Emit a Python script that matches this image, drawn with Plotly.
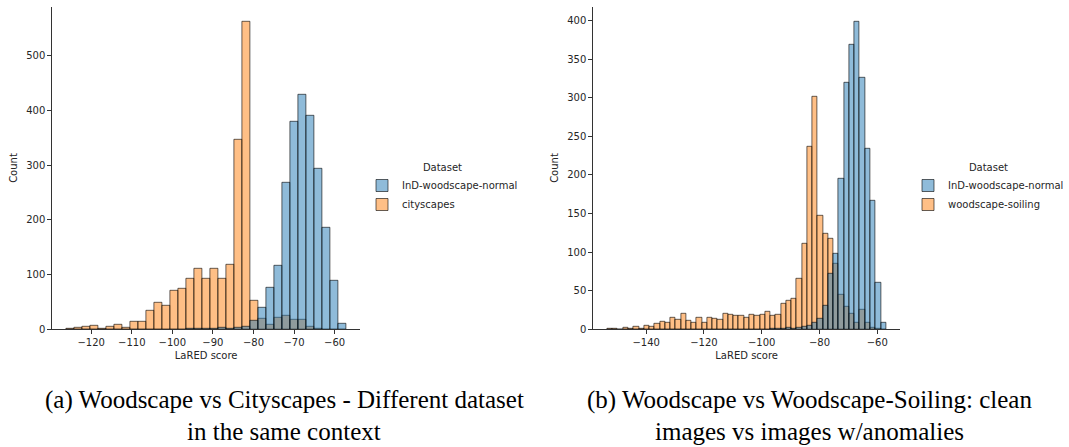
import numpy as np
import plotly.graph_objects as go

# ---------------- data ----------------
# (a) Woodscape vs Cityscapes : 35 common bins
left_bin_start = -126.14
left_bin_width = 1.97
left_woodscape = [0, 0, 0, 0, 0, 0, 0, 0, 0, 0, 0, 0, 0, 0, 0,
                  1, 1, 2, 2, 3, 1, 3, 5, 15, 40, 77, 116, 269, 379, 430,
                  390, 294, 185, 88, 11]
left_cityscapes = [2, 3, 4, 7, 2, 4, 8, 3, 14, 14,
                   34, 49, 43, 71, 74, 93, 111, 93, 111, 93,
                   118, 347, 562, 53, 20, 9, 21, 24, 18, 18,
                   5, 1, 0, 0, 0]
left_xticks = [-120, -110, -100, -90, -80, -70, -60]
left_yticks = [0, 100, 200, 300, 400, 500]

# (b) Woodscape vs Woodscape-Soiling : 53 common bins
right_bin_start = -153.5
right_bin_width = 1.822
right_woodscape = [0] * 31 + [1, 1, 1, 2, 1, 2, 3, 5, 8, 14, 31, 72, 98,
                              195, 319, 369, 398, 326, 234, 167, 60, 9]
right_soiling = [1, 1, 0, 2, 1, 4, 1, 5, 3, 7,
                 10, 9, 15, 13, 20, 11, 9, 15, 9, 15,
                 14, 12, 20, 19, 17, 18, 15, 19, 17, 19,
                 23, 18, 19, 33, 37, 40, 65, 111, 236, 301,
                 147, 124, 117, 85, 45, 29, 20, 9, 26, 9,
                 2, 1, 0]
right_xticks = [-140, -120, -100, -80, -60]
right_yticks = [0, 50, 100, 150, 200, 250, 300, 350, 400]

series_names_left = ["InD-woodscape-normal", "cityscapes"]
series_names_right = ["InD-woodscape-normal", "woodscape-soiling"]
caption_a = ["(a) Woodscape vs Cityscapes - Different dataset", "in the same context"]
caption_b = ["(b) Woodscape vs Woodscape-Soiling: clean", "images vs images w/anomalies"]

# ---------------- styling ----------------
W, H = 1069, 447
FONT = "DejaVu Sans"
TXT = "#262626"
BLUE = "rgba(31,119,180,0.5)"
ORANGE = "rgba(255,127,14,0.5)"
EDGE = "rgba(0,0,0,0.75)"


def centers(start, width, n):
    return start + width * (np.arange(n) + 0.5)


def xrange_of(start, width, n):
    lo, hi = start, start + width * n
    m = 0.05 * (hi - lo)
    return [lo - m, hi + m]


def fmt(v):
    return ("\u2212" + str(abs(v))) if v < 0 else str(v)


fig = go.Figure()

nL = len(left_woodscape)
xl = centers(left_bin_start, left_bin_width, nL)
nR = len(right_woodscape)
xr = centers(right_bin_start, right_bin_width, nR)

# orange first (below), blue on top - as seaborn layers them
fig.add_trace(go.Bar(x=xl, y=left_cityscapes, width=left_bin_width, name=series_names_left[1],
                     marker=dict(color=ORANGE, line=dict(color=EDGE, width=0.8)),
                     xaxis="x", yaxis="y", legend="legend", legendrank=2))
fig.add_trace(go.Bar(x=xl, y=left_woodscape, width=left_bin_width, name=series_names_left[0],
                     marker=dict(color=BLUE, line=dict(color=EDGE, width=0.8)),
                     xaxis="x", yaxis="y", legend="legend", legendrank=1))
fig.add_trace(go.Bar(x=xr, y=right_soiling, width=right_bin_width, name=series_names_right[1],
                     marker=dict(color=ORANGE, line=dict(color=EDGE, width=0.8)),
                     xaxis="x2", yaxis="y2", legend="legend2", legendrank=2))
fig.add_trace(go.Bar(x=xr, y=right_woodscape, width=right_bin_width, name=series_names_right[0],
                     marker=dict(color=BLUE, line=dict(color=EDGE, width=0.8)),
                     xaxis="x2", yaxis="y2", legend="legend2", legendrank=1))

axis_common = dict(showline=True, linecolor="#333333", linewidth=1, ticks="outside",
                   ticklen=4, tickwidth=1, tickcolor="#333333", showgrid=False,
                   zeroline=False, automargin=False,
                   tickfont=dict(family=FONT, size=10, color=TXT))

ymaxL = 1.05 * max(max(left_woodscape), max(left_cityscapes))
ymaxR = 1.05 * max(max(right_woodscape), max(right_soiling))

legend_common = dict(xanchor="left", yanchor="top", bgcolor="rgba(0,0,0,0)",
                     font=dict(family=FONT, size=10, color=TXT),
                     title=dict(text="Dataset", side="top center",
                                font=dict(family=FONT, size=10, color=TXT)),
                     itemclick=False, itemdoubleclick=False)

cap_font = dict(family="Liberation Serif", size=25, color="black")
annotations = []
for lines, cx in ((caption_a, 284), (caption_b, 809)):
    for line, cy in zip(lines, (400, 431)):
        annotations.append(dict(text=line, x=cx / W, y=(H - cy) / H,
                                xref="paper", yref="paper", xanchor="center",
                                yanchor="middle", showarrow=False, font=cap_font))

fig.update_layout(
    width=W, height=H,
    margin=dict(l=0, r=0, t=0, b=0),
    paper_bgcolor="white", plot_bgcolor="white",
    barmode="overlay", bargap=0,
    font=dict(family=FONT, size=10, color=TXT),
    xaxis=dict(domain=[52.3 / W, 360 / W], anchor="y",
               range=xrange_of(left_bin_start, left_bin_width, nL),
               tickvals=left_xticks, ticktext=[fmt(v) for v in left_xticks],
               title=dict(text="LaRED score", font=dict(family=FONT, size=10, color=TXT), standoff=4),
               **axis_common),
    yaxis=dict(domain=[(H - 329.3) / H, (H - 6.7) / H], anchor="x",
               range=[0, ymaxL],
               tickvals=left_yticks, ticktext=[fmt(v) for v in left_yticks],
               title=dict(text="Count", font=dict(family=FONT, size=10, color=TXT), standoff=6),
               **axis_common),
    xaxis2=dict(domain=[593.3 / W, 900 / W], anchor="y2",
                range=xrange_of(right_bin_start, right_bin_width, nR),
                tickvals=right_xticks, ticktext=[fmt(v) for v in right_xticks],
                title=dict(text="LaRED score", font=dict(family=FONT, size=10, color=TXT), standoff=4),
                **axis_common),
    yaxis2=dict(domain=[(H - 329.3) / H, (H - 6.7) / H], anchor="x2",
                range=[0, ymaxR],
                tickvals=right_yticks, ticktext=[fmt(v) for v in right_yticks],
                title=dict(text="Count", font=dict(family=FONT, size=10, color=TXT), standoff=6),
                **axis_common),
    legend=dict(x=362 / W, y=(H - 158) / H, **legend_common),
    legend2=dict(x=908 / W, y=(H - 158) / H, **legend_common),
    annotations=annotations,
)

fig.write_html("out.html")
